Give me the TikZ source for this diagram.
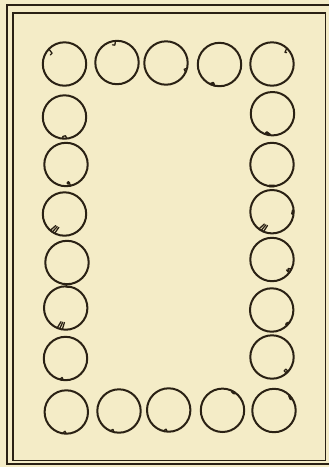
\documentclass[tikz,border=0pt]{standalone}
\definecolor{paper}{RGB}{244,236,199}
\definecolor{ink}{RGB}{42,33,20}
\begin{document}
\begin{tikzpicture}[x=1pt,y=-1pt,
  ring/.style={circle,draw=ink,line width=2pt,minimum size=43.4pt,inner sep=0pt,outer sep=0pt},
  nick/.style={draw=ink,line width=1.3pt,line cap=round,line join=round},
  blob/.style={draw=ink,line width=2.7pt,line cap=round,line join=round}]
\useasboundingbox (0,0) rectangle (329,467);
\fill[paper] (0,0) rectangle (329,467);
\clip (0,0) rectangle (329,467);
% frame
\draw[ink,line width=2.2pt] (7,5) rectangle (332,464.3);
\draw[ink,line width=1.5pt] (13,13) rectangle (325.5,460.3);
% top row
\node[ring] (t1) at (64.5,64) {};
\node[ring] (t2) at (117,62.5) {};
\node[ring] (t3) at (166,63) {};
\node[ring] (t4) at (219.5,64.5) {};
\node[ring] (t5) at (272,64) {};
% left column
\node[ring] (l2) at (64.5,117) {};
\node[ring] (l3) at (66,164.5) {};
\node[ring] (l4) at (64.5,214) {};
\node[ring] (l5) at (67,262.5) {};
\node[ring] (l6) at (65.7,308) {};
\node[ring] (l7) at (65.5,358.5) {};
% bottom row
\node[ring] (b1) at (66.3,412) {};
\node[ring] (b2) at (119,411) {};
\node[ring] (b3) at (168.7,410) {};
\node[ring] (b4) at (222.5,410.3) {};
\node[ring] (b5) at (274,410.5) {};
% right column
\node[ring] (r2) at (272.5,113.7) {};
\node[ring] (r3) at (272,164.5) {};
\node[ring] (r4) at (272,211.7) {};
\node[ring] (r5) at (272,259.5) {};
\node[ring] (r6) at (271.7,310) {};
\node[ring] (r7) at (272,357) {};
% small marks on the rings
\draw[nick,shift={(t1.center)}] (224:21.7) -- (221:16.5) -- (213:16.8);
\draw[nick,shift={(t2.center)}] (266:21.7) -- (263:17.5) -- (256:18.2);
\draw[nick,shift={(t3.center)}] (14:21.7) -- (19:19.2) -- (25:21.7);
\draw[blob,shift={(t4.center)}] (105:21.7) -- (109:19.8) -- (114:21.5);
\draw[nick,shift={(t5.center)}] (313:21.7) -- (318:17.5) -- (322:18.5);
\draw[nick,shift={(l2.center)}] (84:21.7) -- (87:18.8) -- (95:19.5) -- (94:21.7);
\draw[nick,shift={(l3.center)}] (78:21.7) -- (80:18.5);
\draw[nick,shift={(l3.center)}] (83:18.6) circle[radius=1.3];
\foreach \a in {117,124,131}{
  \draw[nick,shift={(l4.center)}] (\a:21.6) -- (\a-4:14.5);}
\draw[nick,shift={(l5.center)}] (92:21.7) -- (92:24.6) -- (83:24.8);
\foreach \a in {99,106,113}{
  \draw[nick,shift={(l6.center)}] (\a:21.6) -- (\a-4:14.5);}
\draw[nick,shift={(l7.center)}] (96:21.7) -- (100:19.3) -- (106:21.6);
\draw[nick,shift={(b1.center)}] (90:21.7) -- (94:19.3) -- (100:21.6);
\draw[nick,shift={(b2.center)}] (104:21.7) -- (108:19.3) -- (114:21.6);
\draw[nick,shift={(b3.center)}] (94:21.7) -- (98:19.3) -- (104:21.6);
\draw[blob,shift={(b4.center)}] (296:21.4) -- (304:20.5);
\draw[blob,shift={(b5.center)}] (316:21.4) -- (326:20.3);
\draw[blob,shift={(r2.center)}] (97:21.2) -- (106:20.2);
\draw[nick,shift={(r2.center)}] (106:20.2) circle[radius=1.4];
\draw[blob,shift={(r3.center)}] (84:21.7) -- (97:21.7);
\draw[blob,shift={(r4.center)}] (357:21.2) -- (6:20.5);
\foreach \a in {113,120,127}{
  \draw[nick,shift={(r4.center)}] (\a:21.6) -- (\a-5:14.5);}
\draw[nick,shift={(r5.center)}] (26:21.5) -- (29:18.5) -- (33:20) -- (36:18) -- (38:21.3);
\draw[blob,shift={(r6.center)}] (37:21.3) -- (44:20.3);
\draw[nick,shift={(r7.center)}] (45:19.6) circle[radius=1.8];
\end{tikzpicture}
\end{document}
